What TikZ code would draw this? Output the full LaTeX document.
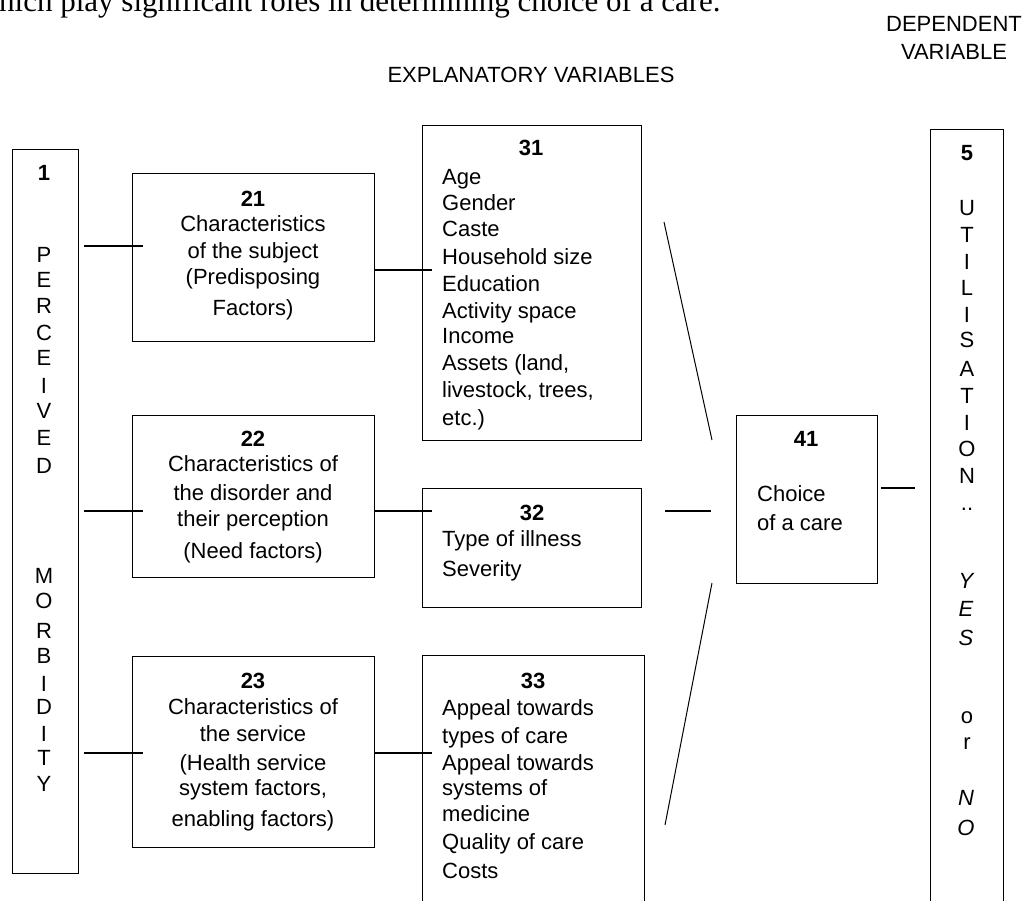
\documentclass[tikz,border=0pt]{standalone}
\usepackage{fontspec}
\setmainfont{Liberation Sans}
\newfontfamily\topserif{Liberation Serif}
\usetikzlibrary{calc}
\begin{document}
\begin{tikzpicture}[x=1pt,y=-1pt,
  every node/.style={font=\fontsize{22}{26}\selectfont},
  box/.style={draw,line width=1.3pt,inner sep=0pt,anchor=north west},
  conn/.style={line width=1.3pt},
  diag/.style={line width=1pt},
  txt/.style={anchor=base,inner sep=0pt},
  ltxt/.style={anchor=base west,inner sep=0pt},
  num/.style={anchor=base,inner sep=0pt,font=\fontsize{22}{26}\selectfont\bfseries},
  head/.style={anchor=base,inner sep=0pt}
]
\useasboundingbox (0,0) rectangle (1028,901);
\clip (0,0) rectangle (1028,901);

% top sentence (cut off at the top)
\node[anchor=base west,inner sep=0pt,font=\topserif\fontsize{31}{31}\selectfont] (intro) at (-1,12) {hich play significant roles in determining choice of a care.};

% headings
\node[head] (dep1) at (954,32) {DEPENDENT};
\node[head] (dep2) at (954,60) {VARIABLE};
\node[head] (expl) at (531,83) {EXPLANATORY VARIABLES};

% boxes
\node[box,minimum width=66pt,minimum height=724pt] (b1) at (12,149) {};
\node[box,minimum width=242pt,minimum height=168pt] (b21) at (132,173) {};
\node[box,minimum width=242pt,minimum height=162pt] (b22) at (132,415) {};
\node[box,minimum width=242pt,minimum height=191pt] (b23) at (132,656) {};
\node[box,minimum width=219pt,minimum height=315pt] (b31) at (422,125) {};
\node[box,minimum width=219pt,minimum height=119pt] (b32) at (422,488) {};
\node[box,minimum width=222pt,minimum height=280pt] (b33) at (422,655) {};
\node[box,minimum width=141pt,minimum height=168pt] (b41) at (736,415) {};
\node[box,minimum width=73pt,minimum height=800pt] (b5) at (930,129) {};

% box 1 text
\node[num] (n1) at (44,181) {1};
\foreach \l/\y [count=\i] in {P/263,E/288,R/313,C/341,E/365,I/393,V/418,E/445,D/473,
                               M/583,O/608,R/638,B/663,I/691,D/714,I/741,T/765,Y/791}
  \node[txt] (a\i) at (44,\y) {\l};

% box 5 text
\node[num] (n5) at (967,161) {5};
\foreach \l/\y [count=\i] in {U/216,T/243,I/270,L/296,I/323,S/348,A/376,T/403,I/430,O/456,N/483,../510}
  \node[txt] (u\i) at (967,\y) {\l};
\foreach \l/\y [count=\i] in {Y/588,E/616,S/645,N/805,O/835}
  \node[txt,font=\fontsize{22}{26}\selectfont\itshape] (v\i) at (966,\y) {\l};
\node[txt] (w1) at (967,723) {o};
\node[txt] (w2) at (967,749) {r};

% box 21
\node[num] (n21) at (253,207) {21};
\foreach \t/\y [count=\i] in {{Characteristics}/232,{of the subject}/259,{(Predisposing}/285,{Factors)}/316}
  \node[txt] (s21\i) at (253,\y) {\t};
% box 22
\node[num] (n22) at (253,446) {22};
\foreach \t/\y [count=\i] in {{Characteristics of}/471,{the disorder and}/500,{their perception}/526,{(Need factors)}/558}
  \node[txt] (s22\i) at (253,\y) {\t};
% box 23
\node[num] (n23) at (253,688) {23};
\foreach \t/\y [count=\i] in {{Characteristics of}/714,{the service}/741,{(Health service}/770,{system factors,}/795,{enabling factors)}/826}
  \node[txt] (s23\i) at (253,\y) {\t};

% box 31
\node[num] (n31) at (531,156) {31};
\foreach \t/\y [count=\i] in {{Age}/185,{Gender}/211,{Caste}/237,{Household size}/265,{Education}/291,{Activity space}/319,{Income}/343,{Assets (land,}/370,{livestock, trees,}/397,{etc.)}/425}
  \node[ltxt] (s31\i) at (442,\y) {\t};
% box 32
\node[num] (n32) at (532,520) {32};
\foreach \t/\y [count=\i] in {{Type of illness}/546,{Severity}/576}
  \node[ltxt] (s32\i) at (442,\y) {\t};
% box 33
\node[num] (n33) at (533,688) {33};
\foreach \t/\y [count=\i] in {{Appeal towards}/715,{types of care}/743,{Appeal towards}/770,{systems of}/795,{medicine}/821,{Quality of care}/849,{Costs}/878}
  \node[ltxt] (s33\i) at (442,\y) {\t};
% box 41
\node[num] (n41) at (806,446) {41};
\node[ltxt] (s411) at (757,501) {Choice};
\node[ltxt] (s412) at (757,530) {of a care};

% connector end points
\coordinate (c1) at (143,246);
\coordinate (c2) at (143,511);
\coordinate (c3) at (143,753);
\coordinate (c4) at (432,270);
\coordinate (c5) at (432,511);
\coordinate (c6) at (432,753);
\coordinate (c7) at (711,511);
\coordinate (c8) at (915,488);
\coordinate (d1a) at (664,222);
\coordinate (d1b) at (712,440);
\coordinate (d2a) at (665,825);
\coordinate (d2b) at (712,583);

\draw[conn] ([xshift=5pt]b1.east |- c1) -- (c1);
\draw[conn] ([xshift=5pt]b1.east |- c2) -- (c2);
\draw[conn] ([xshift=5pt]b1.east |- c3) -- (c3);
\draw[conn] (b21.east |- c4) -- (c4);
\draw[conn] (b22.east |- c5) -- (c5);
\draw[conn] (b23.east |- c6) -- (c6);
\draw[conn] ([xshift=23pt]b32.east |- c7) -- (c7);
\draw[conn] ([xshift=3pt]b41.east |- c8) -- (c8);
\draw[diag] (d1a) -- (d1b);
\draw[diag] (d2a) -- (d2b);
\end{tikzpicture}
\end{document}
